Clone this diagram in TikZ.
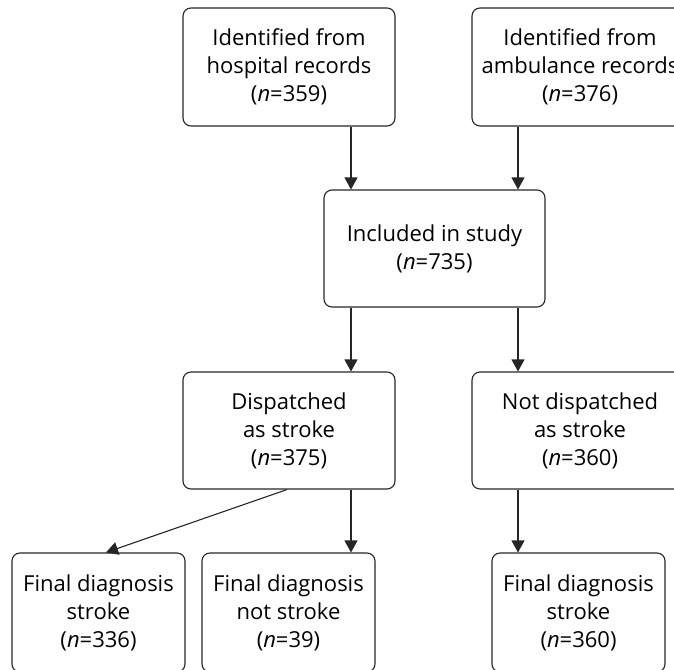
\documentclass[tikz,border=0pt]{standalone}
\usepackage{fontspec}
\setmainfont{Open Sans}
\usetikzlibrary{arrows.meta}
\begin{document}
\begin{tikzpicture}[x=1pt,y=-1pt,
  box/.style={draw=black!85, line width=1.1pt, rounded corners=8pt, align=center,
    inner sep=0pt, font=\fontsize{22}{28}\selectfont, text=black},
  arr/.style={draw=black!85, line width=1.1pt, -{Triangle[width=13pt,length=12pt]}}]
\clip (0,0) rectangle (674,669);
\coordinate (xL) at (351,0);
\coordinate (xR) at (518,0);
\coordinate (xa) at (287,0);
\coordinate (xb) at (106,0);
\node[box, minimum width=212pt, minimum height=118pt] (hosp) at (289,67)
  {Identified from\\hospital records\\(\textit{n}=359)};
\node[box, minimum width=216pt, minimum height=118pt] (amb) at (580,67)
  {Identified from\\ambulance records\\(\textit{n}=376)};
\node[box, minimum width=221pt, minimum height=117pt] (incl) at (434.5,248.5)
  {Included in study\\(\textit{n}=735)};
\node[box, minimum width=212pt, minimum height=117pt] (disp) at (289,430.5)
  {Dispatched\\as stroke\\(\textit{n}=375)};
\node[box, minimum width=216pt, minimum height=117pt] (notd) at (580,430.5)
  {Not dispatched\\as stroke\\(\textit{n}=360)};
\node[box, minimum width=173pt, minimum height=119pt] (f1) at (98.5,612.5)
  {Final diagnosis\\stroke\\(\textit{n}=336)};
\node[box, minimum width=173pt, minimum height=119pt] (f2) at (288.5,612.5)
  {Final diagnosis\\not stroke\\(\textit{n}=39)};
\node[box, minimum width=173pt, minimum height=119pt] (f3) at (578.5,612.5)
  {Final diagnosis\\stroke\\(\textit{n}=360)};
\draw[arr] (hosp.south -| xL) -- (incl.north -| xL);
\draw[arr] (amb.south -| xR) -- (incl.north -| xR);
\draw[arr] (incl.south -| xL) -- (disp.north -| xL);
\draw[arr] (incl.south -| xR) -- (notd.north -| xR);
\draw[arr] (disp.south -| xa) -- (f1.north -| xb);
\draw[arr] (disp.south -| xL) -- (f2.north -| xL);
\draw[arr] (notd.south -| xR) -- (f3.north -| xR);
\end{tikzpicture}
\end{document}
